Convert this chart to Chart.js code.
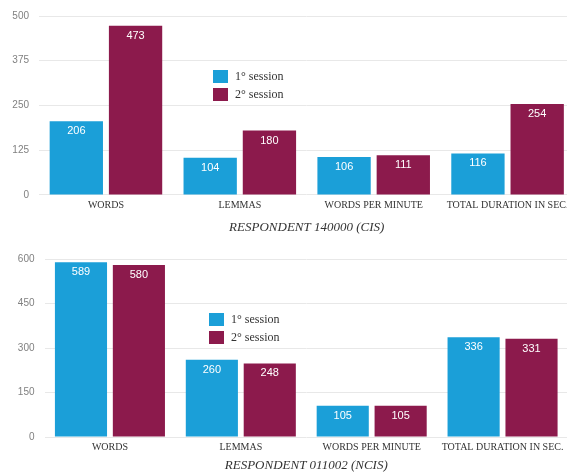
<!DOCTYPE html>
<html>
<head>
<meta charset="utf-8">
<script src="https://cdn.jsdelivr.net/npm/chart.js@4/dist/chart.umd.min.js"></script>
<style>
  html, body { margin: 0; padding: 0; background: #ffffff; overflow: hidden; }
  body { width: 567px; height: 473px; position: relative; }
  .panel { position: absolute; left: 0; }
  canvas { display: block; }
</style>
</head>
<body>
<div class="panel" style="top:0"><canvas id="chartCis" width="580" height="237"></canvas></div>
<div class="panel" style="top:237px"><canvas id="chartNcis" width="580" height="237"></canvas></div>
<script>
// Measures compared across the two sessions
const categories = ['WORDS', 'LEMMAS', 'WORDS PER MINUTE', 'TOTAL DURATION IN SEC.'];
const sessionLabels = ['1° session', '2° session'];

// Respondent 140000 (CIS)
const cisSession1 = [206, 104, 106, 116];
const cisSession2 = [473, 180, 111, 254];
const cisTicks = [0, 125, 250, 375, 500];

// Respondent 011002 (NCIS)
const ncisSession1 = [589, 260, 105, 336];
const ncisSession2 = [580, 248, 105, 331];
const ncisTicks = [0, 150, 300, 450, 600];

const BLUE = '#1b9fd8';
const MAROON = '#8c1a4c';

// Writes each bar's value in white just below the bar top
const valueLabels = {
  id: 'valueLabels',
  afterDatasetsDraw(chart) {
    const ctx = chart.ctx;
    ctx.save();
    ctx.font = '11px "Liberation Sans", Arial, sans-serif';
    ctx.fillStyle = '#ffffff';
    ctx.textAlign = 'center';
    ctx.textBaseline = 'middle';
    chart.data.datasets.forEach((ds, i) => {
      chart.getDatasetMeta(i).data.forEach((bar, j) => {
        ctx.fillText(String(ds.data[j]), bar.x, bar.y + 10);
      });
    });
    ctx.restore();
  }
};

// Legend box placed inside the plot area
const innerLegend = {
  id: 'innerLegend',
  afterDraw(chart, args, opts) {
    const ctx = chart.ctx;
    const area = chart.chartArea;
    ctx.save();
    ctx.font = '12px "Liberation Serif", "Times New Roman", serif';
    ctx.textAlign = 'left';
    ctx.textBaseline = 'middle';
    chart.data.datasets.forEach((ds, i) => {
      const x = area.left + opts.x;
      const y = area.top + opts.y + i * opts.step;
      ctx.fillStyle = ds.backgroundColor;
      ctx.fillRect(x, y, 15, 13);
      ctx.fillStyle = '#333333';
      ctx.fillText(ds.label, x + 22, y + 6.5);
    });
    ctx.restore();
  }
};

function buildChart(id, s1, s2, ticks, title, geo) {
  const tickMax = ticks[ticks.length - 1];
  const tickStep = ticks[1] - ticks[0];
  return new Chart(document.getElementById(id), {
    type: 'bar',
    data: {
      labels: categories,
      datasets: [
        { label: sessionLabels[0], data: s1, backgroundColor: BLUE },
        { label: sessionLabels[1], data: s2, backgroundColor: MAROON }
      ]
    },
    options: {
      responsive: false,
      animation: false,
      devicePixelRatio: 1,
      layout: { padding: { left: 0, top: geo.top, right: geo.right, bottom: 0 } },
      datasets: { bar: { categoryPercentage: 0.885, barPercentage: 0.9 } },
      scales: {
        x: {
          grid: { display: false, drawTicks: false },
          border: { display: false },
          ticks: {
            padding: 4,
            color: '#333333',
            maxRotation: 0,
            autoSkip: false,
            font: { family: '"Liberation Serif", "Times New Roman", serif', size: 10 }
          }
        },
        y: {
          min: 0,
          max: tickMax,
          afterFit(scale) { scale.width = geo.left; },
          afterBuildTicks(scale) { scale.ticks = ticks.map(v => ({ value: v })); },
          grid: { color: '#e8e8e8', drawTicks: false, lineWidth: 1 },
          border: { display: false },
          ticks: {
            stepSize: tickStep,
            padding: 10,
            color: '#808080',
            font: { family: '"Liberation Sans", Arial, sans-serif', size: 10 }
          }
        }
      },
      plugins: {
        legend: { display: false },
        tooltip: { enabled: false },
        title: {
          display: true,
          text: title,
          position: 'bottom',
          fullSize: false,
          color: '#333333',
          font: { family: '"Liberation Serif", "Times New Roman", serif', size: 13, style: 'italic', weight: 'normal' },
          padding: { top: geo.titleTop, bottom: geo.titleBottom }
        },
        innerLegend: geo.legend
      }
    },
    plugins: [valueLabels, innerLegend]
  });
}

buildChart('chartCis', cisSession1, cisSession2, cisTicks, 'RESPONDENT 140000 (CIS)',
  { left: 39, right: 5.5, top: 15, titleTop: 4.5, titleBottom: 2,
    legend: { x: 174, y: 54, step: 18 } });

buildChart('chartNcis', ncisSession1, ncisSession2, ncisTicks, 'RESPONDENT 011002 (NCIS)',
  { left: 44.5, right: 12, top: 22, titleTop: 1.2, titleBottom: 0.2,
    legend: { x: 164.5, y: 54, step: 18 } });
</script>
</body>
</html>
